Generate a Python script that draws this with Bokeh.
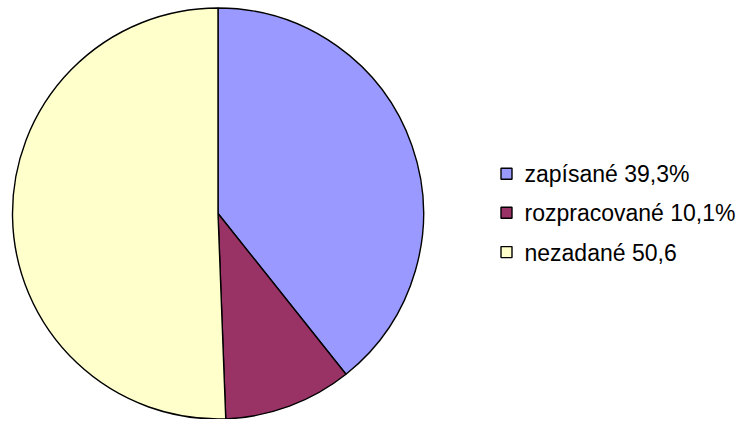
import math
from bokeh.plotting import figure
from bokeh.models import Range1d, ColumnDataSource
from bokeh.core.properties import value
from bokeh.embed import file_html
from bokeh.resources import INLINE

categories = ["zapísané", "rozpracované", "nezadané"]
values = [39.3, 10.1, 50.6]
legend_labels = ["zapísané 39,3%", "rozpracované 10,1%", "nezadané 50,6"]
colors = ["#9999FF", "#993366", "#FFFFCC"]

W, H = 740, 419
p = figure(width=W, height=H, output_backend="svg", toolbar_location=None,
           x_range=Range1d(0, W), y_range=Range1d(0, H), min_border=0)
p.axis.visible = False
p.grid.visible = False
p.outline_line_color = None
p.background_fill_color = "white"
p.border_fill_color = "white"

total = sum(values)
starts, ends = [], []
cum = 0.0
for v in values:
    starts.append(math.pi / 2 - 2 * math.pi * cum / total)
    cum += v
    ends.append(math.pi / 2 - 2 * math.pi * cum / total)

src = ColumnDataSource(dict(start=starts, end=ends, color=colors, cat=categories))
p.wedge(x=217.5, y=H - 213, radius=205.5, radius_units="screen",
        start_angle="start", end_angle="end", direction="clock",
        fill_color="color", line_color="black", line_width=1.4, source=src)

ly = [H - 173.2, H - 212.3, H - 251.6]
p.rect(x=[506] * 3, y=ly, width=11, height=11, width_units="screen", height_units="screen",
       fill_color=colors, line_color="black", line_width=1.4)
p.text(x=[524] * 3, y=[y - 0.5 for y in ly], text=legend_labels, text_font=value("Liberation Sans"),
       text_font_size="23px", text_baseline="middle", text_align="left", text_color="black")

open("out.html", "w").write(file_html(p, INLINE))
